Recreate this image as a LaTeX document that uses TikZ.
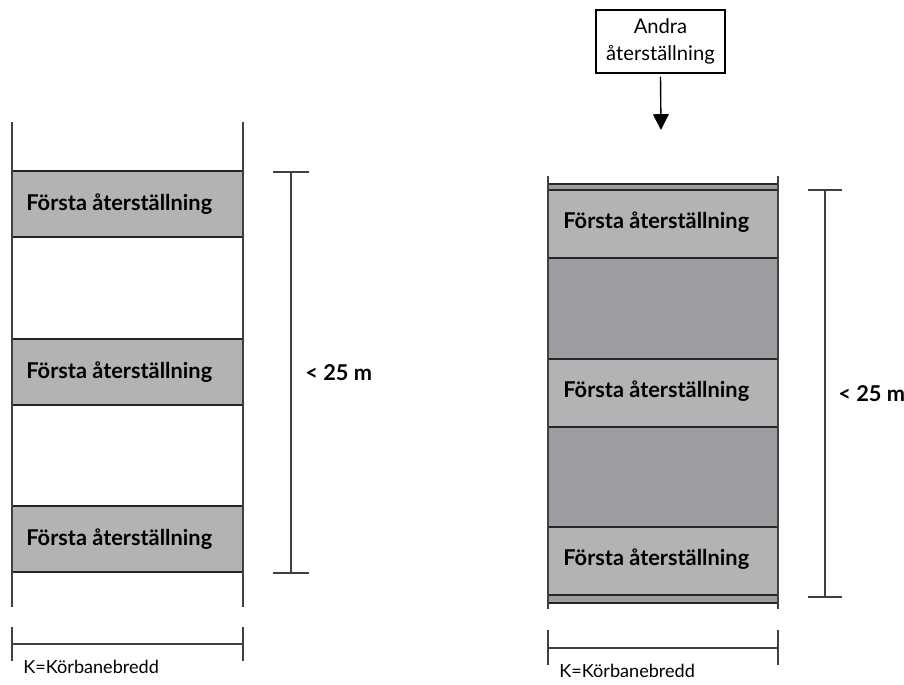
\documentclass[tikz,border=0pt]{standalone}
\usepackage{fontspec}
\setmainfont{Lato}
\usetikzlibrary{arrows.meta}

\definecolor{patchlight}{RGB}{179,179,181}
\definecolor{patchdark}{RGB}{157,157,161}

\tikzset{
  road/.style={draw=black!75, line width=0.8pt},
  patch/.style={draw=black!85, line width=0.7pt},
  dimline/.style={draw=black!75, line width=0.8pt},
  patchtext/.style={anchor=west, font=\bfseries\fontsize{12.4}{14}\selectfont, inner sep=0pt},
  dimtext/.style={anchor=west, font=\bfseries\fontsize{12.4}{14}\selectfont, inner sep=0pt},
  kltext/.style={anchor=west, font=\fontsize{10.3}{12}\selectfont, inner sep=0pt},
  notebox/.style={draw, line width=0.8pt, align=center, font=\fontsize{11.5}{15}\selectfont,
                  minimum width=129*0.02cm, minimum height=63*0.02cm, inner sep=1pt}
}

\begin{document}
\begin{tikzpicture}[x=0.02cm, y=-0.02cm]
  \useasboundingbox (0,0) rectangle (904,684);

  % left road: first restorations only
  \foreach \top in {171, 339, 506}
    \draw [patch, fill=patchlight] (12, \top) rectangle (243, \top+66);
  \draw [road] (12, 122) -- (12, 607);
  \draw [road] (243, 122) -- (243, 607);
  \node [patchtext] (lpa) at (26, 204) {Första återställning};
  \node [patchtext] (lpb) at (26, 372) {Första återställning};
  \node [patchtext] (lpc) at (26, 539) {Första återställning};

  % left length
  \coordinate (lda) at (291, 172);
  \coordinate (ldb) at (291, 573);
  \draw [dimline] (lda) -- (ldb);
  \draw [dimline] ([xshift=-18*0.02cm]lda) -- ([xshift=18*0.02cm]lda);
  \draw [dimline] ([xshift=-18*0.02cm]ldb) -- ([xshift=18*0.02cm]ldb);
  \node [dimtext] (llen) at (305, 373) {< 25 m};

  % left width
  \coordinate (lwa) at (12, 644);
  \coordinate (lwb) at (243, 644);
  \draw [dimline] (lwa) -- (lwb);
  \draw [dimline] (12, 627) -- (12, 661);
  \draw [dimline] (243, 627) -- (243, 661);
  \node [kltext] (lkb) at (23, 667) {K=Körbanebredd};

  % right road: second restoration over the whole stretch
  \draw [patch, fill=patchdark] (548, 184) rectangle (778, 603);
  \foreach \top in {190, 359, 527}
    \draw [patch, fill=patchlight] (548, \top) rectangle (778, \top+68);
  \draw [road] (548, 176) -- (548, 609);
  \draw [road] (778, 176) -- (778, 609);
  \node [patchtext] (rpa) at (563, 222) {Första återställning};
  \node [patchtext] (rpb) at (563, 391) {Första återställning};
  \node [patchtext] (rpc) at (563, 559) {Första återställning};

  % second restoration label
  \node [notebox] (andra) at (660.5, 41.5) {Andra\\återställning};
  \coordinate (pil) at (661, 130);
  \draw [line width=0.8pt, -{Triangle[length=9pt, width=9pt]}] ([yshift=-3*0.02cm]andra.south) -- (pil);

  % right length
  \coordinate (rda) at (825, 190);
  \coordinate (rdb) at (825, 597);
  \draw [dimline] (rda) -- (rdb);
  \draw [dimline] ([xshift=-17*0.02cm]rda) -- ([xshift=17*0.02cm]rda);
  \draw [dimline] ([xshift=-17*0.02cm]rdb) -- ([xshift=17*0.02cm]rdb);
  \node [dimtext] (rlen) at (838, 394) {< 25 m};

  % right width
  \coordinate (rwa) at (548, 648);
  \coordinate (rwb) at (778, 648);
  \draw [dimline] (rwa) -- (rwb);
  \draw [dimline] (548, 630) -- (548, 665);
  \draw [dimline] (778, 630) -- (778, 665);
  \node [kltext] (rkb) at (559, 671) {K=Körbanebredd};
\end{tikzpicture}
\end{document}
